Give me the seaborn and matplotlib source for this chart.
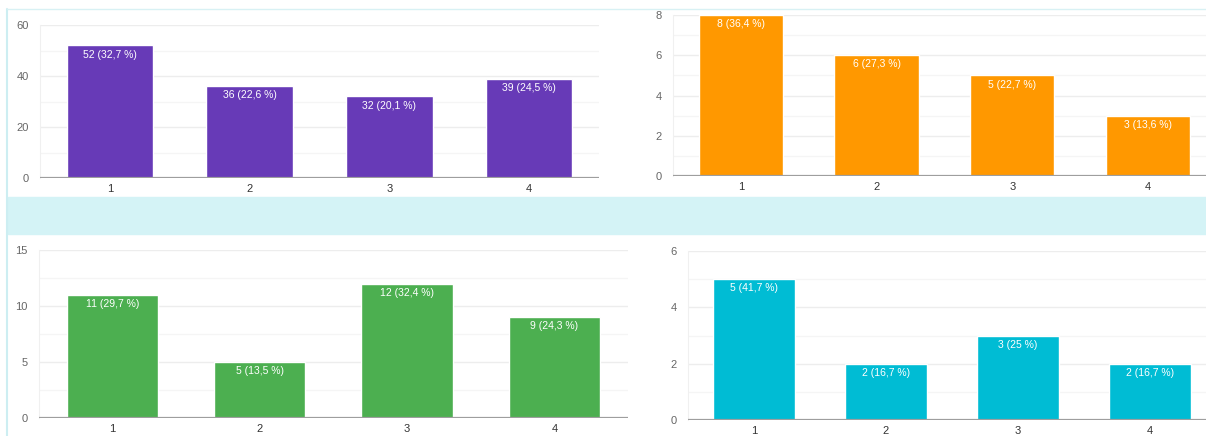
import pandas as pd
import seaborn as sns
import matplotlib.pyplot as plt
from matplotlib.patches import Rectangle
from matplotlib.lines import Line2D
from matplotlib.ticker import MultipleLocator

# === DATI ===
categorie = ['1', '2', '3', '4']

valori_a = [52, 36, 32, 39]
perc_a = ['32,7', '22,6', '20,1', '24,5']

valori_b = [8, 6, 5, 3]
perc_b = ['36,4', '27,3', '22,7', '13,6']

valori_c = [11, 5, 12, 9]
perc_c = ['29,7', '13,5', '32,4', '24,3']

valori_d = [5, 2, 3, 2]
perc_d = ['41,7', '16,7', '25', '16,7']

# (valori, percentuali, colore, ymax, passo, posizione axes)
pannelli = [
  (valori_a, perc_a, '#673ab7', 60, 20, [0.0332, 0.5917, 0.4635, 0.3509]),
  (valori_b, perc_b, '#ff9800', 8, 2, [0.558, 0.5963, 0.4502, 0.3693]),
  (valori_c, perc_c, '#4caf50', 15, 5, [0.0323, 0.0413, 0.4884, 0.3853]),
  (valori_d, perc_d, '#00bcd4', 6, 2, [0.5705, 0.0367, 0.4378, 0.3876]),
]

sns.set_style('white')
plt.rcParams['font.family'] = ['Liberation Sans', 'DejaVu Sans']

fig = plt.figure(figsize=(12.06, 4.36), dpi=100)

# sfondo: bordo delle card e banda azzurra
fig.patches.append(Rectangle((8 / 1206, (436 - 234) / 436), 1, 37 / 436,
                             transform=fig.transFigure, color='#d4f3f6', zorder=0))
fig.lines.append(Line2D([7 / 1206, 7 / 1206], [0, (436 - 9) / 436],
                        transform=fig.transFigure, color='#cdeef2', lw=1.5))
fig.lines.append(Line2D([7 / 1206, 1], [(436 - 9) / 436, (436 - 9) / 436],
                        transform=fig.transFigure, color='#d8f1f4', lw=1))

for valori, perc, colore, ymax, passo, pos in pannelli:
  ax = fig.add_axes(pos)
  df = pd.DataFrame({'cat': categorie, 'val': valori})
  sns.barplot(data=df, x='cat', y='val', color=colore, width=0.62,
              saturation=1, ax=ax, zorder=3)

  ax.set_ylim(0, ymax)
  ax.set_xlim(-0.5, 3.5)
  ax.yaxis.set_major_locator(MultipleLocator(passo))
  ax.yaxis.set_minor_locator(MultipleLocator(passo / 2))
  ax.grid(axis='y', which='major', color='#ededed', lw=1, zorder=0)
  ax.grid(axis='y', which='minor', color='#f5f5f5', lw=1, zorder=0)
  ax.axhline(0, color='#9e9e9e', lw=1.6, zorder=4)

  for s in ['top', 'right', 'bottom']:
    ax.spines[s].set_visible(False)
  ax.spines['left'].set_color('#f0f0f0')

  ax.set_xlabel('')
  ax.set_ylabel('')
  ax.tick_params(axis='y', which='both', length=0, pad=8, labelsize=8, labelcolor='#666666')
  ax.tick_params(axis='x', length=0, pad=4, labelsize=8, labelcolor='#333333')

  # etichette dentro le barre
  for i, (v, p) in enumerate(zip(valori, perc)):
    ax.annotate(f'{v} ({p} %)', xy=(i, v), xytext=(0, -3), textcoords='offset points',
                ha='center', va='top', color='white', fontsize=7.5, zorder=5)

plt.savefig('out.png', dpi=100)
